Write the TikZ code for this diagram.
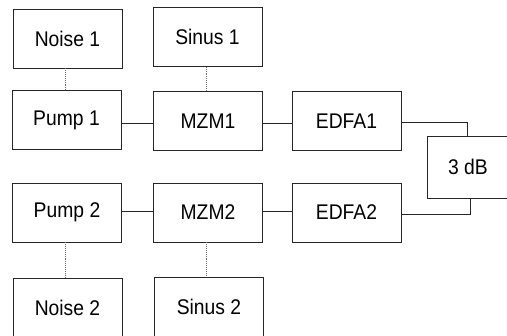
\documentclass[tikz,border=0pt]{standalone}
\usepackage{fontspec}
\setmainfont{Liberation Sans}
\newcommand{\vt}[1]{\scalebox{1}[1.1]{#1}}
\begin{document}
\begin{tikzpicture}[x=1pt,y=-1pt,
  blk/.style={draw=black!85, line width=0.8pt, rectangle, inner sep=0pt,
    minimum width=109pt, minimum height=59pt, font=\fontsize{19.3}{22}\selectfont},
  conn/.style={draw=black!85, line width=0.8pt},
  dots/.style={draw=black!55, line width=0.9pt, densely dotted}]
\useasboundingbox (0,0) rectangle (507,336);
\clip (0,0) rectangle (507,336);
\node[blk] (noise1) at (67.5,38.5) {\vt{Noise 1}};
\node[blk] (sinus1) at (207.5,37) {\vt{Sinus 1}};
\node[blk] (pump1) at (66.5,120) {\vt{Pump 1}};
\node[blk] (mzm1) at (208,121) {\vt{MZM1}};
\node[blk] (edfa1) at (346.5,121) {\vt{EDFA1}};
\node[blk, minimum width=82pt, minimum height=62pt] (db) at (468,167) {\vt{3 dB}};
\node[blk] (pump2) at (67,212.5) {\vt{Pump 2}};
\node[blk] (mzm2) at (208,212.5) {\vt{MZM2}};
\node[blk] (edfa2) at (346.5,212.5) {\vt{EDFA2}};
\node[blk] (noise2) at (67.5,307.5) {\vt{Noise 2}};
\node[blk] (sinus2) at (209,306.5) {\vt{Sinus 2}};
\coordinate (dl) at (65,0);
\coordinate (dr) at (206,0);
\coordinate (r1) at (0,123);
\coordinate (r2) at (0,211.5);
\coordinate (e1) at (467,122);
\coordinate (e2) at (470,214);
\draw[dots] (noise1.south -| dl) -- (pump1.north -| dl);
\draw[dots] (sinus1.south -| dr) -- (mzm1.north -| dr);
\draw[dots] (pump2.south -| dl) -- (noise2.north -| dl);
\draw[dots] (mzm2.south -| dr) -- (sinus2.north -| dr);
\draw[conn] (pump1.east |- r1) -- (mzm1.west |- r1);
\draw[conn] (mzm1.east |- r1) -- (edfa1.west |- r1);
\draw[conn] (pump2.east |- r2) -- (mzm2.west |- r2);
\draw[conn] (mzm2.east |- r2) -- (edfa2.west |- r2);
\draw[conn] (edfa1.east |- e1) -| (db.north -| e1);
\draw[conn] (edfa2.east |- e2) -| (db.south -| e2);
\end{tikzpicture}
\end{document}
